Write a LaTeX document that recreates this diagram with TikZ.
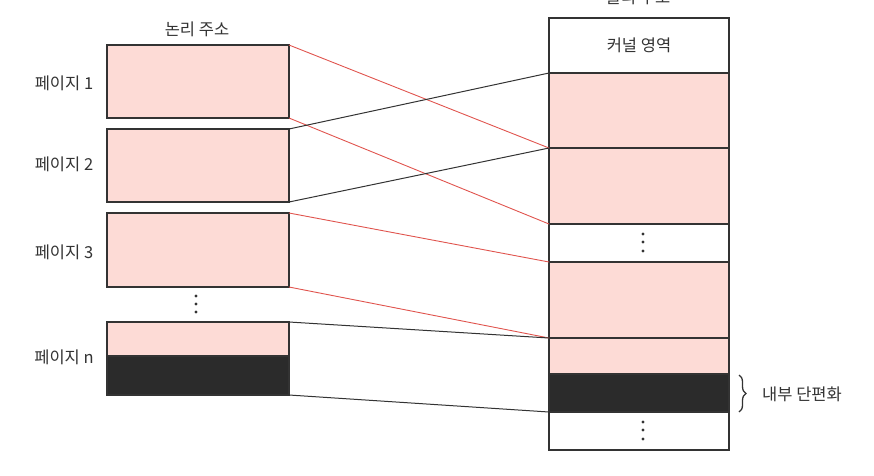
\documentclass[tikz,border=0pt]{standalone}
\usepackage{fontspec}
\newfontfamily\kr{Noto Sans CJK KR}
\usetikzlibrary{decorations.pathreplacing}
\definecolor{pinkfill}{HTML}{FDDBD6}
\definecolor{darkfill}{HTML}{2B2B2B}
\definecolor{redline}{HTML}{E0544E}
\definecolor{ink}{HTML}{333333}
\begin{document}
\begin{tikzpicture}[x=1pt,y=-1pt,
  box/.style={draw=ink, line width=1.2pt, rectangle, inner sep=0pt, outer sep=0pt, anchor=north west},
  page/.style={box, fill=pinkfill, minimum width=182pt},
  frame/.style={box, minimum width=180pt},
  lbl/.style={font=\kr\fontsize{16.5}{18}\selectfont, text=ink, inner sep=0pt},
  redc/.style={draw=redline, line width=0.9pt},
  darkc/.style={draw=ink, line width=1pt},
  dot/.style={fill=ink}]
\useasboundingbox (0,0) rectangle (874,475);
% logical pages
\node[page, minimum height=73pt] (p1) at (107,45) {};
\node[page, minimum height=73pt] (p2) at (107,129) {};
\node[page, minimum height=74pt] (p3) at (107,213) {};
\node[page, minimum height=34pt] (pn) at (107,322) {};
\node[box, fill=darkfill, minimum width=182pt, minimum height=39pt] (pnd) at (107,356) {};
% physical frames
\node[frame, minimum height=55pt] (k) at (549,18) {};
\node[frame, fill=pinkfill, minimum height=75pt] (f1) at (549,73) {};
\node[frame, fill=pinkfill, minimum height=76pt] (f2) at (549,148) {};
\node[frame, minimum height=38pt] (g1) at (549,224) {};
\node[frame, fill=pinkfill, minimum height=76pt] (f3) at (549,262) {};
\node[frame, fill=pinkfill, minimum height=36pt] (f4) at (549,338) {};
\node[frame, fill=darkfill, minimum height=38pt] (f5) at (549,374) {};
\node[frame, minimum height=38pt] (g2) at (549,412) {};
% labels
\node[lbl] (tl) at (197,29) {논리 주소};
\node[lbl] (tr) at (638,-3) {물리 주소};
\node[lbl] (kl) at (k.center) {커널 영역};
\node[lbl] (l1) at (64,83) {페이지 1};
\node[lbl] (l2) at (64,164) {페이지 2};
\node[lbl] (l3) at (64,252) {페이지 3};
\node[lbl] (ln) at (64,357) {페이지 n};
\node[lbl, anchor=west] (frag) at (762,394) {내부 단편화};
% connectors
\draw[redc] (p1.north east) -- (f2.north west);
\draw[redc] (p1.south east) -- (f2.south west);
\draw[darkc] (p2.north east) -- (f1.north west);
\draw[darkc] (p2.south east) -- (f1.south west);
\draw[redc] (p3.north east) -- (f3.north west);
\draw[redc] (p3.south east) -- (f3.south west);
\draw[darkc] (pn.north east) -- (f4.north west);
\draw[darkc] (pnd.south east) -- (f5.south west);
% brace
\coordinate (b1) at (739,375);
\coordinate (b2) at (739,412);
\draw[ink, line width=1.3pt, decorate, decoration={brace, amplitude=7pt}] (b1) -- (b2);
% dots
\foreach \yy in {296,304,312} \fill[dot] (196,\yy) circle (1.7pt);
\foreach \yy in {234,242,251} \fill[dot] (643,\yy) circle (1.7pt);
\foreach \yy in {422,430,439} \fill[dot] (643,\yy) circle (1.7pt);
\end{tikzpicture}
\end{document}
